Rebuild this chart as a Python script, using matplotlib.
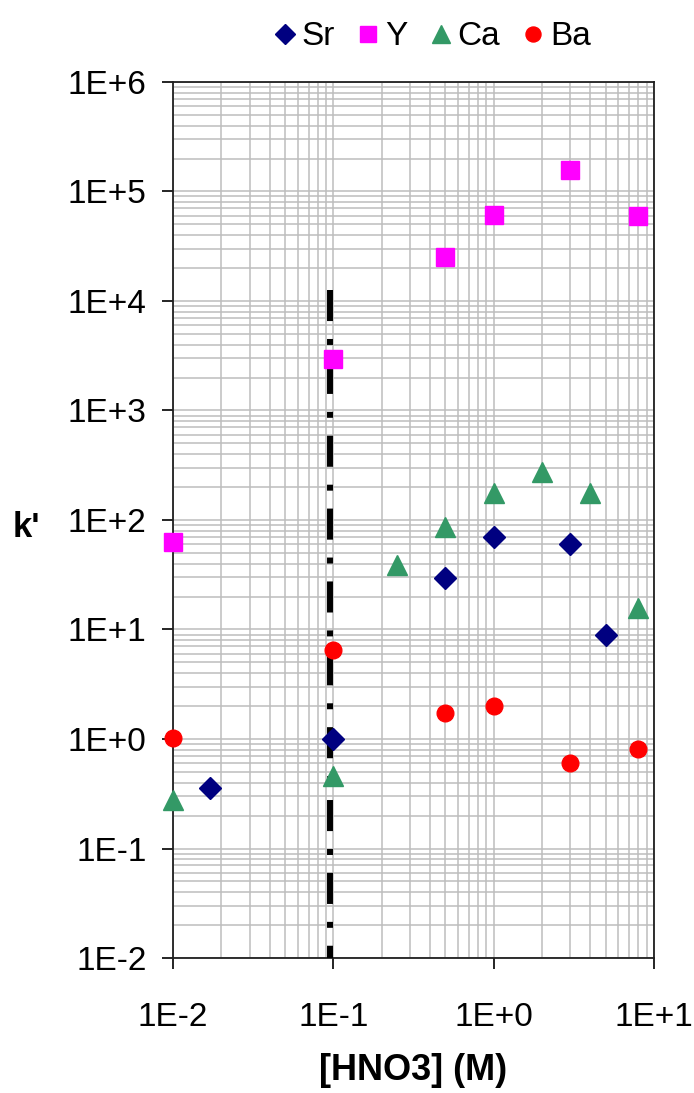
import numpy as np
import matplotlib
matplotlib.use("Agg")
import matplotlib.pyplot as plt
from matplotlib.ticker import LogLocator, FuncFormatter, NullFormatter

plt.rcParams['font.family'] = ['Liberation Sans', 'DejaVu Sans']

# k' vs [HNO3]
sr_x = [0.017, 0.1, 0.5, 1.0, 3.0, 5.0]
sr_y = [0.355, 1.0, 29.4, 70.5, 60.4, 8.9]

y_x = [0.01, 0.1, 0.5, 1.0, 3.0, 8.0]
y_y = [63, 2940, 25000, 61000, 157000, 59700]

ca_x = [0.01, 0.1, 0.25, 0.5, 1.0, 2.0, 4.0, 8.0]
ca_y = [0.277, 0.46, 39, 87, 178, 275, 178, 15.6]

ba_x = [0.01, 0.1, 0.5, 1.0, 3.0, 8.0]
ba_y = [1.03, 6.5, 1.72, 2.02, 0.61, 0.805]

# vertical marker line
vline_x = [0.095, 0.095]
vline_y = [1.25e4, 1e-2]

fig = plt.figure(figsize=(6.94, 10.93), dpi=100)
ax = fig.add_axes([0.2493, 0.1235, 0.6931, 0.8015])

ax.set_xscale('log')
ax.set_yscale('log')
ax.set_xlim(1e-2, 1e1)
ax.set_ylim(1e-2, 1e6)

ax.xaxis.set_major_locator(LogLocator(base=10, numticks=10))
ax.yaxis.set_major_locator(LogLocator(base=10, numticks=20))
ax.xaxis.set_minor_locator(LogLocator(base=10, subs=np.arange(2, 10), numticks=40))
ax.yaxis.set_minor_locator(LogLocator(base=10, subs=np.arange(2, 10), numticks=80))
fmt = FuncFormatter(lambda v, p: "1E%+d" % int(round(np.log10(v))))
ax.xaxis.set_major_formatter(fmt)
ax.yaxis.set_major_formatter(fmt)
ax.xaxis.set_minor_formatter(NullFormatter())
ax.yaxis.set_minor_formatter(NullFormatter())

ax.grid(True, which='both', color='#bdbdbd', linewidth=1.1)
ax.set_axisbelow(True)
ax.tick_params(which='major', direction='out', length=8, width=1.2, labelsize=24, colors='black')
ax.tick_params(axis='y', which='major', pad=11)
ax.tick_params(axis='x', which='major', pad=24)
ax.tick_params(which='minor', length=0)
for s in ax.spines.values():
    s.set_linewidth(1.3)
    s.set_color('#202020')

ax.plot(vline_x, vline_y, color='black', linewidth=4.3, linestyle=(0, (5.2, 3.0, 1.0, 3.0)),
        solid_capstyle='butt', dash_capstyle='butt', zorder=3)

ax.plot(sr_x, sr_y, linestyle='none', marker='D', markersize=11, color='#000080', label='Sr', zorder=4, clip_on=False)
ax.plot(y_x, y_y, linestyle='none', marker='s', markersize=13, color='#ff00ff', label='Y', zorder=4, clip_on=False)
ax.plot(ca_x, ca_y, linestyle='none', marker='^', markersize=14, color='#339966', label='Ca', zorder=4, clip_on=False)
ax.plot(ba_x, ba_y, linestyle='none', marker='o', markersize=12, color='#ff0000', label='Ba', zorder=4, clip_on=False)

ax.set_xlabel('[HNO3] (M)', fontsize=26, fontweight='bold', labelpad=14)
fig.text(0.038, 0.517, "k'", fontsize=25, fontweight='bold', ha='center', va='center')

leg = fig.legend(loc='upper center', bbox_to_anchor=(0.625, 1.008), ncol=4, frameon=False,
                 fontsize=24, handlelength=0.5, handletextpad=0.25, columnspacing=0.75,
                 markerscale=0.9)

fig.savefig('out.png', dpi=100)
